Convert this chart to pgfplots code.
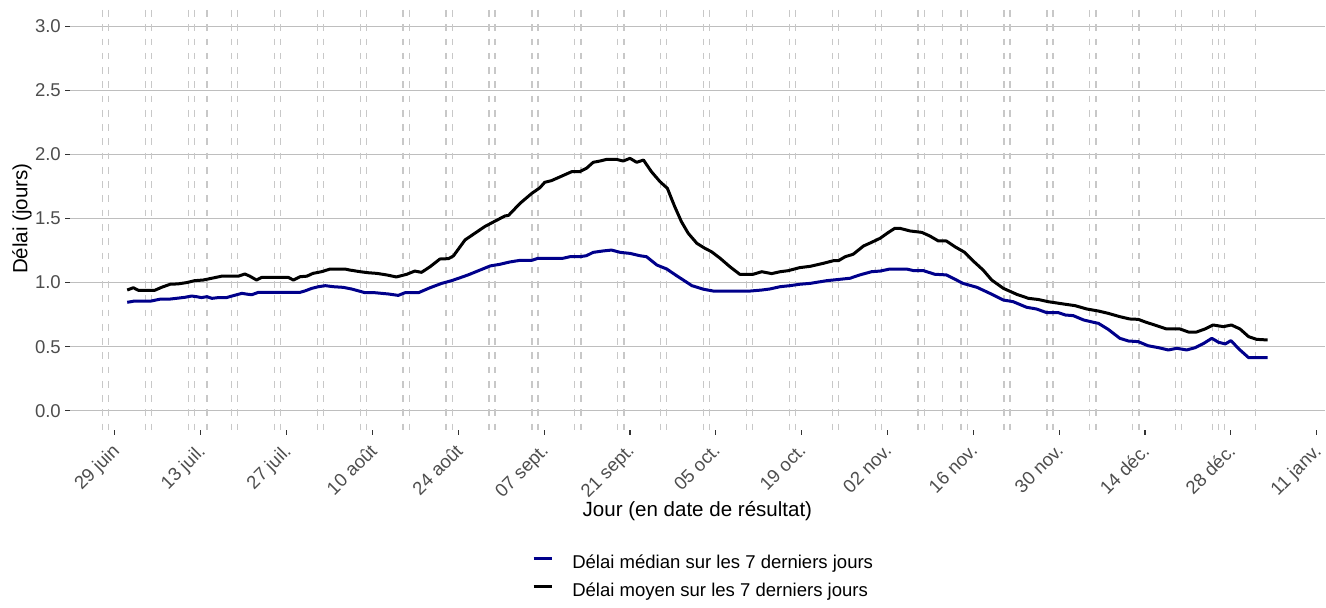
\documentclass[border=0pt]{standalone}
\usepackage{pgfplots}
\pgfplotsset{compat=1.18}
\usepackage{fontspec}
\setmainfont{Liberation Sans}
\definecolor{medblue}{RGB}{0,0,139}
\definecolor{gridc}{RGB}{190,190,190}
\definecolor{dashc}{RGB}{200,200,200}
\definecolor{ticklab}{RGB}{77,77,77}
\definecolor{tickc}{RGB}{51,51,51}
\begin{document}
\begin{tikzpicture}
\path[use as bounding box] (0pt,0pt) rectangle (994.5pt,455.25pt);
\begin{axis}[
  at={(52.65pt,132.83pt)}, anchor=south west,
  scale only axis, width=940.8pt, height=317.02pt,
  xmin=-7.3, xmax=197.3, ymin=-0.15, ymax=3.15,
  axis x line*=bottom, axis y line*=left,
  axis line style={draw=none},
  tick align=outside,
  major tick length=3.75pt,
  tick style={color=tickc, line width=0.8pt},
  xtick={0,14,...,196},
  xticklabels={29 juin, 13 juil., 27 juil., 10 août, 24 août, 07 sept., 21 sept., 05 oct., 19 oct., 02 nov., 16 nov., 30 nov., 14 déc., 28 déc., 11 janv.},
  ytick={0,0.5,...,3.0},
  /pgf/number format/fixed, /pgf/number format/fixed zerofill, /pgf/number format/precision=1, /pgf/number format/assume math mode=true,
  ymajorgrids=true,
  major grid style={color=gridc, line width=1pt},
  xticklabel style={xshift=-3pt, rotate=45, anchor=north east, inner sep=0pt, text depth=0pt, font=\fontsize{13.9}{16}\selectfont, color=ticklab},
  yticklabel style={anchor=east, inner sep=0pt, font=\fontsize{13.9}{16}\selectfont, color=ticklab},
  xticklabel shift=5.7pt,
  yticklabel shift=3.1pt,
  xlabel={Jour (en date de résultat)},
  ylabel={Délai (jours)},
  xlabel style={at={(axis description cs:0.5,-0.2037)}, anchor=base, font=\fontsize{15.4}{18}\selectfont},
  ylabel style={at={(axis description cs:-0.0384,0.5)}, anchor=center, font=\fontsize{15.4}{18}\selectfont},
  legend style={at={(axis description cs:0.3680,-0.2915)}, anchor=north west, draw=none, fill=none, inner sep=0pt, row sep=7.3pt, column sep=0pt,
    nodes={inner sep=0pt, text height=11pt, text depth=3pt, font=\fontsize{13.9}{16}\selectfont}},
  legend cell align=left,
  legend image code/.code={\draw[#1, line width=2.25pt] (0pt,3.5pt) -- (13.8pt,3.5pt); \path (27.9pt,3.5pt);},
]
% weekend and public-holiday markers (vertical dashed lines)
\addplot[dashc, line width=1pt, dash pattern=on 5pt off 5.7pt, dash phase=8.6pt, unbounded coords=jump, forget plot] coordinates {
(-2,3.15)(-2,-0.15)(-2,nan)(-1,3.15)(-1,-0.15)(-1,nan)
(5,3.15)(5,-0.15)(5,nan)(6,3.15)(6,-0.15)(6,nan)
(12,3.15)(12,-0.15)(12,nan)(13,3.15)(13,-0.15)(13,nan)
(15,3.15)(15,-0.15)(15,nan)
(19,3.15)(19,-0.15)(19,nan)(20,3.15)(20,-0.15)(20,nan)
(26,3.15)(26,-0.15)(26,nan)(27,3.15)(27,-0.15)(27,nan)
(33,3.15)(33,-0.15)(33,nan)(34,3.15)(34,-0.15)(34,nan)
(40,3.15)(40,-0.15)(40,nan)(41,3.15)(41,-0.15)(41,nan)
(47,3.15)(47,-0.15)(47,nan)(48,3.15)(48,-0.15)(48,nan)
(54,3.15)(54,-0.15)(54,nan)(55,3.15)(55,-0.15)(55,nan)
(61,3.15)(61,-0.15)(61,nan)(62,3.15)(62,-0.15)(62,nan)
(68,3.15)(68,-0.15)(68,nan)(69,3.15)(69,-0.15)(69,nan)
(75,3.15)(75,-0.15)(75,nan)(76,3.15)(76,-0.15)(76,nan)
(82,3.15)(82,-0.15)(82,nan)(83,3.15)(83,-0.15)(83,nan)
(89,3.15)(89,-0.15)(89,nan)(90,3.15)(90,-0.15)(90,nan)
(96,3.15)(96,-0.15)(96,nan)(97,3.15)(97,-0.15)(97,nan)
(103,3.15)(103,-0.15)(103,nan)(104,3.15)(104,-0.15)(104,nan)
(110,3.15)(110,-0.15)(110,nan)(111,3.15)(111,-0.15)(111,nan)
(117,3.15)(117,-0.15)(117,nan)(118,3.15)(118,-0.15)(118,nan)
(124,3.15)(124,-0.15)(124,nan)(125,3.15)(125,-0.15)(125,nan)
(131,3.15)(131,-0.15)(131,nan)(132,3.15)(132,-0.15)(132,nan)
(135,3.15)(135,-0.15)(135,nan)
(138,3.15)(138,-0.15)(138,nan)(139,3.15)(139,-0.15)(139,nan)
(145,3.15)(145,-0.15)(145,nan)(146,3.15)(146,-0.15)(146,nan)
(152,3.15)(152,-0.15)(152,nan)(153,3.15)(153,-0.15)(153,nan)
(159,3.15)(159,-0.15)(159,nan)(160,3.15)(160,-0.15)(160,nan)
(166,3.15)(166,-0.15)(166,nan)(167,3.15)(167,-0.15)(167,nan)
(173,3.15)(173,-0.15)(173,nan)(174,3.15)(174,-0.15)(174,nan)
(179,3.15)(179,-0.15)(179,nan)
(180,3.15)(180,-0.15)(180,nan)(181,3.15)(181,-0.15)(181,nan)
(186,3.15)(186,-0.15)
};
\addplot[medblue, line width=2.25pt, line join=round] coordinates {
(2,0.846)(3.2,0.856)(5.9,0.856)(7.3,0.87)(8.7,0.87)(10,0.877)(11.4,0.885)(12.5,0.895)(13.3,0.89)(14.1,0.883)(15,0.89)(15.8,0.877)(16.9,0.883)(18.2,0.883)(19.3,0.898)(20.7,0.916)(21.5,0.91)(22.3,0.905)(23.4,0.924)(30.2,0.924)(31,0.935)(32.1,0.955)(33.2,0.968)(34.3,0.976)(35.6,0.968)(37.2,0.963)(38.6,0.95)(40.8,0.921)(42.4,0.921)(44.6,0.911)(46.2,0.90)(47.3,0.921)(49.5,0.921)(51.4,0.96)(53.3,0.994)(54.9,1.015)(56.3,1.038)(57.6,1.06)(59.3,1.093)(61.2,1.13)(62.8,1.143)(64.4,1.161)(66.1,1.174)(68,1.174)(69,1.19)(73.1,1.19)(74.2,1.202)(75.8,1.202)(76.9,1.21)(78,1.236)(79.6,1.247)(81,1.254)(82.4,1.236)(84,1.228)(85.6,1.21)(86.7,1.202)(88.4,1.137)(90,1.106)(91.6,1.054)(92.7,1.02)(94.1,0.976)(96,0.948)(97.6,0.934)(103.6,0.934)(105.5,0.942)(106.8,0.95)(108.5,0.968)(110.1,0.976)(111.7,0.987)(113.4,0.994)(116.1,1.015)(118.3,1.026)(119.9,1.034)(121.5,1.06)(123.4,1.085)(124.8,1.09)(126.4,1.106)(129.1,1.106)(130.3,1.093)(131.9,1.093)(133.7,1.065)(135.6,1.06)(136.7,1.034)(138.3,0.994)(140.6,0.963)(142.7,0.916)(144.9,0.864)(146.5,0.851)(148.7,0.807)(150.3,0.794)(152,0.765)(153.9,0.765)(155,0.747)(156.3,0.742)(158,0.708)(159.6,0.69)(160.4,0.682)(162,0.635)(163.9,0.565)(165.3,0.544)(166.9,0.539)(168.5,0.507)(170.2,0.492)(171.8,0.474)(173.2,0.487)(174.8,0.474)(176.2,0.492)(177.6,0.526)(178.9,0.565)(180,0.534)(181.1,0.521)(182,0.547)(183.5,0.474)(184.9,0.414)(188,0.414)
};
\addlegendentry{Délai médian sur les 7 derniers jours}
\addplot[black, line width=2.25pt, line join=round] coordinates {
(2,0.942)(3,0.96)(3.8,0.94)(6.5,0.94)(7.6,0.963)(9,0.987)(10.3,0.99)(11.7,1.0)(13,1.015)(14.4,1.02)(15.8,1.034)(17.4,1.05)(20.1,1.05)(21.2,1.067)(22,1.05)(23.1,1.02)(23.9,1.04)(28.3,1.04)(29.1,1.02)(30.2,1.046)(31.3,1.05)(32.3,1.072)(33.7,1.085)(35.1,1.106)(37.5,1.106)(38.3,1.098)(40,1.085)(41.3,1.077)(42.7,1.072)(44.3,1.06)(45.9,1.044)(47.6,1.065)(48.9,1.09)(50,1.08)(51.4,1.124)(53,1.184)(54.4,1.187)(55.2,1.208)(57.1,1.333)(58.7,1.385)(60.3,1.437)(62,1.48)(63.6,1.52)(64.2,1.525)(66.1,1.62)(68,1.697)(69.3,1.74)(70.1,1.783)(71.2,1.796)(72.9,1.832)(74.5,1.866)(75.8,1.866)(76.9,1.892)(78,1.939)(79.1,1.949)(80.2,1.962)(81.8,1.962)(82.9,1.949)(84,1.97)(85.1,1.939)(86.2,1.957)(87.5,1.866)(88.9,1.788)(90.1,1.736)(91.3,1.593)(92.4,1.475)(93.5,1.385)(94.9,1.307)(96.2,1.268)(97.3,1.241)(98.7,1.19)(100.3,1.124)(101.9,1.065)(104.1,1.065)(105.5,1.085)(107.1,1.07)(108.5,1.085)(109.8,1.093)(111.7,1.117)(113.4,1.127)(115.5,1.15)(117.2,1.171)(118,1.171)(119.1,1.202)(120.4,1.221)(122.1,1.286)(123.4,1.314)(124.8,1.346)(126.1,1.39)(127.2,1.424)(128,1.424)(129.7,1.403)(131.6,1.392)(132.9,1.364)(134.3,1.325)(135.6,1.325)(137,1.28)(138.6,1.236)(140,1.168)(141.6,1.098)(143,1.02)(144.9,0.955)(147.1,0.908)(149,0.877)(150.6,0.868)(152.2,0.851)(154.7,0.833)(156.6,0.82)(158.5,0.794)(160.4,0.778)(162,0.76)(163.9,0.734)(165.5,0.716)(166.9,0.713)(168.2,0.69)(169.9,0.664)(171.5,0.638)(173.7,0.638)(175.1,0.614)(176.4,0.614)(177.8,0.638)(179.1,0.669)(180.8,0.656)(182.1,0.669)(183.5,0.638)(184.9,0.578)(186.2,0.557)(188,0.552)
};
\addlegendentry{Délai moyen sur les 7 derniers jours}
\end{axis}
\end{tikzpicture}
\end{document}
